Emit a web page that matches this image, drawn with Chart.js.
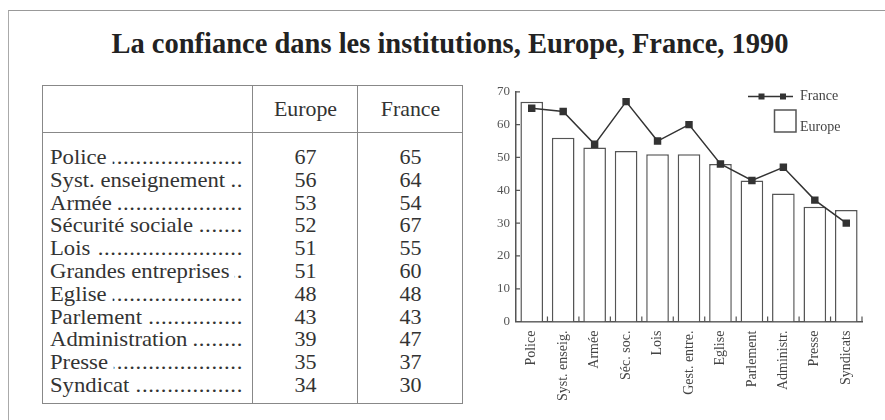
<!DOCTYPE html>
<html>
<head>
<meta charset="utf-8">
<script src="https://cdn.jsdelivr.net/npm/chart.js@4.4.1/dist/chart.umd.min.js"></script>
<style>
  body { margin: 0; width: 885px; height: 420px; overflow: hidden; background: #fff; font-family: "Liberation Serif", serif; color: #333; position: relative; }
  #frame { position: absolute; left: 8px; top: 10px; width: 900px; height: 430px; border-top: 1.5px solid #999; border-left: 1.5px solid #aaa; }
  #title { position: absolute; left: 0; width: 900px; top: 28px; text-align: center; font-weight: bold; font-size: 28.5px; color: #222; }
  #tbl { position: absolute; left: 42px; top: 85px; width: 419px; height: 317px; border: 1.5px solid #888; }
  .vline { position: absolute; top: 0; bottom: 0; border-left: 1.5px solid #888; }
  #head { position: absolute; left: 0; right: 0; top: 0; height: 46px; border-bottom: 1.5px solid #888; }
  .hcell { position: absolute; top: 11px; font-size: 21px; text-align: center; width: 105px; transform: scaleX(1.04); }
  #rows { position: absolute; left: 0; right: 0; top: 60px; }
  .row { position: relative; height: 22.8px; line-height: 22.8px; font-size: 21px; }
  .lab { position: absolute; left: 7px; width: 179px; display: flex; white-space: nowrap; transform: scaleX(1.08); transform-origin: left center; }
  .dots { flex: 1; overflow: hidden; direction: rtl; letter-spacing: 0.6px; }
  .num { position: absolute; width: 105px; text-align: center; transform: scaleX(1.05); }
  #chartBox { position: absolute; left: 470px; top: 78px; width: 410px; height: 342px; }
</style>
</head>
<body>
<div id="frame"></div>
<div id="title">La confiance dans les institutions, Europe, France, 1990</div>
<div id="tbl">
  <div class="vline" style="left:209px"></div>
  <div class="vline" style="left:314px"></div>
  <div id="head">
    <div class="hcell" style="left:210px">Europe</div>
    <div class="hcell" style="left:315px">France</div>
  </div>
  <div id="rows"></div>
</div>
<div id="chartBox"><canvas id="chart"></canvas></div>
<script>
// Institutions as named in the table
const institutions = ["Police", "Syst. enseignement", "Armée", "Sécurité sociale", "Lois",
  "Grandes entreprises", "Eglise", "Parlement", "Administration", "Presse", "Syndicat"];
// Short names under the bars
const shortLabels = ["Police", "Syst. enseig.", "Armée", "Séc. soc.", "Lois", "Gest. entre.",
  "Eglise", "Parlement", "Administr.", "Presse", "Syndicats"];
const europe = [67, 56, 53, 52, 51, 51, 48, 43, 39, 35, 34];
const france = [65, 64, 54, 67, 55, 60, 48, 43, 47, 37, 30];
const yTicks = [0, 10, 20, 30, 40, 50, 60, 70];

// Build the table rows
let rowsHtml = "";
institutions.forEach((name, i) => {
  rowsHtml += `
    <div class="row">
      <div class="lab"><span>${name}&nbsp;</span><span class="dots">${".".repeat(60)}</span></div>
      <div class="num" style="left:210px">${europe[i]}</div>
      <div class="num" style="left:315px">${france[i]}</div>
    </div>`;
});
document.getElementById("rows").innerHTML = rowsHtml;

Chart.defaults.font.family = "'Liberation Serif', serif";
Chart.defaults.color = "#444";

// Small ticks pointing into the plot, like the printed chart
const innerTicks = {
  id: "innerTicks",
  afterDatasetsDraw(chart) {
    const { ctx, chartArea, scales } = chart;
    const x = scales.x, y = scales.y;
    ctx.save();
    ctx.strokeStyle = "#555";
    ctx.lineWidth = 1.2;
    ctx.beginPath();
    yTicks.forEach((v) => {
      if (v === 0) return;
      const py = y.getPixelForValue(v);
      ctx.moveTo(chartArea.left, py);
      ctx.lineTo(chartArea.left + 4, py);
    });
    for (let i = 0; i < shortLabels.length; i++) {
      const px = i < shortLabels.length - 1
        ? (x.getPixelForValue(i) + x.getPixelForValue(i + 1)) / 2
        : chartArea.right;
      ctx.moveTo(px, chartArea.bottom);
      ctx.lineTo(px, chartArea.bottom - 5);
    }
    ctx.stroke();
    ctx.restore();
  },
};

// Legend in the top right corner
const boxLegend = {
  id: "boxLegend",
  afterDraw(chart) {
    const ctx = chart.ctx;
    const ox = 470, oy = 78;
    ctx.save();
    ctx.strokeStyle = "#333";
    ctx.fillStyle = "#333";
    ctx.lineWidth = 1.5;
    ctx.beginPath();
    ctx.moveTo(748 - ox, 96.5 - oy);
    ctx.lineTo(793 - ox, 96.5 - oy);
    ctx.stroke();
    [761.5, 783].forEach((cx) => ctx.fillRect(cx - 3 - ox, 93.5 - oy, 6, 6));
    ctx.strokeStyle = "#555";
    ctx.strokeRect(774.5 - ox, 110 - oy, 21.5, 22);
    ctx.fillStyle = "#444";
    ctx.font = "14px 'Liberation Serif'";
    ctx.textBaseline = "middle";
    ctx.fillText(chart.data.datasets[0].label, 800 - ox, 96.5 - oy);
    ctx.fillText(chart.data.datasets[1].label, 800 - ox, 127 - oy);
    ctx.restore();
  },
};

new Chart(document.getElementById("chart"), {
  data: {
    labels: shortLabels,
    datasets: [
      {
        type: "line",
        label: "France",
        data: france,
        borderColor: "#333",
        borderWidth: 1.5,
        backgroundColor: "#333",
        pointStyle: "rect",
        pointRadius: 4.2,
        pointHoverRadius: 4.2,
        order: 0,
      },
      {
        type: "bar",
        label: "Europe",
        data: europe,
        backgroundColor: "#fff",
        borderColor: "#555",
        borderWidth: 1.5,
        categoryPercentage: 1,
        barPercentage: 0.72,
        order: 1,
      },
    ],
  },
  options: {
    responsive: true,
    maintainAspectRatio: false,
    animation: false,
    layout: { padding: { top: 8, right: 18, left: 21, bottom: 10 } },
    plugins: { legend: { display: false }, tooltip: { enabled: false } },
    scales: {
      x: {
        offset: true,
        grid: { display: false, drawTicks: false },
        border: { display: true, color: "#555", width: 1.5 },
        ticks: { minRotation: 90, maxRotation: 90, padding: 9, color: "#444", font: { size: 14 } },
      },
      y: {
        min: 0,
        max: 70,
        afterBuildTicks: (axis) => { axis.ticks = yTicks.map((v) => ({ value: v })); },
        grid: { display: false, drawTicks: false },
        border: { display: true, color: "#555", width: 1.5 },
        ticks: { padding: 6, color: "#555", font: { size: 13 } },
      },
    },
  },
  plugins: [innerTicks, boxLegend],
});
</script>
</body>
</html>
